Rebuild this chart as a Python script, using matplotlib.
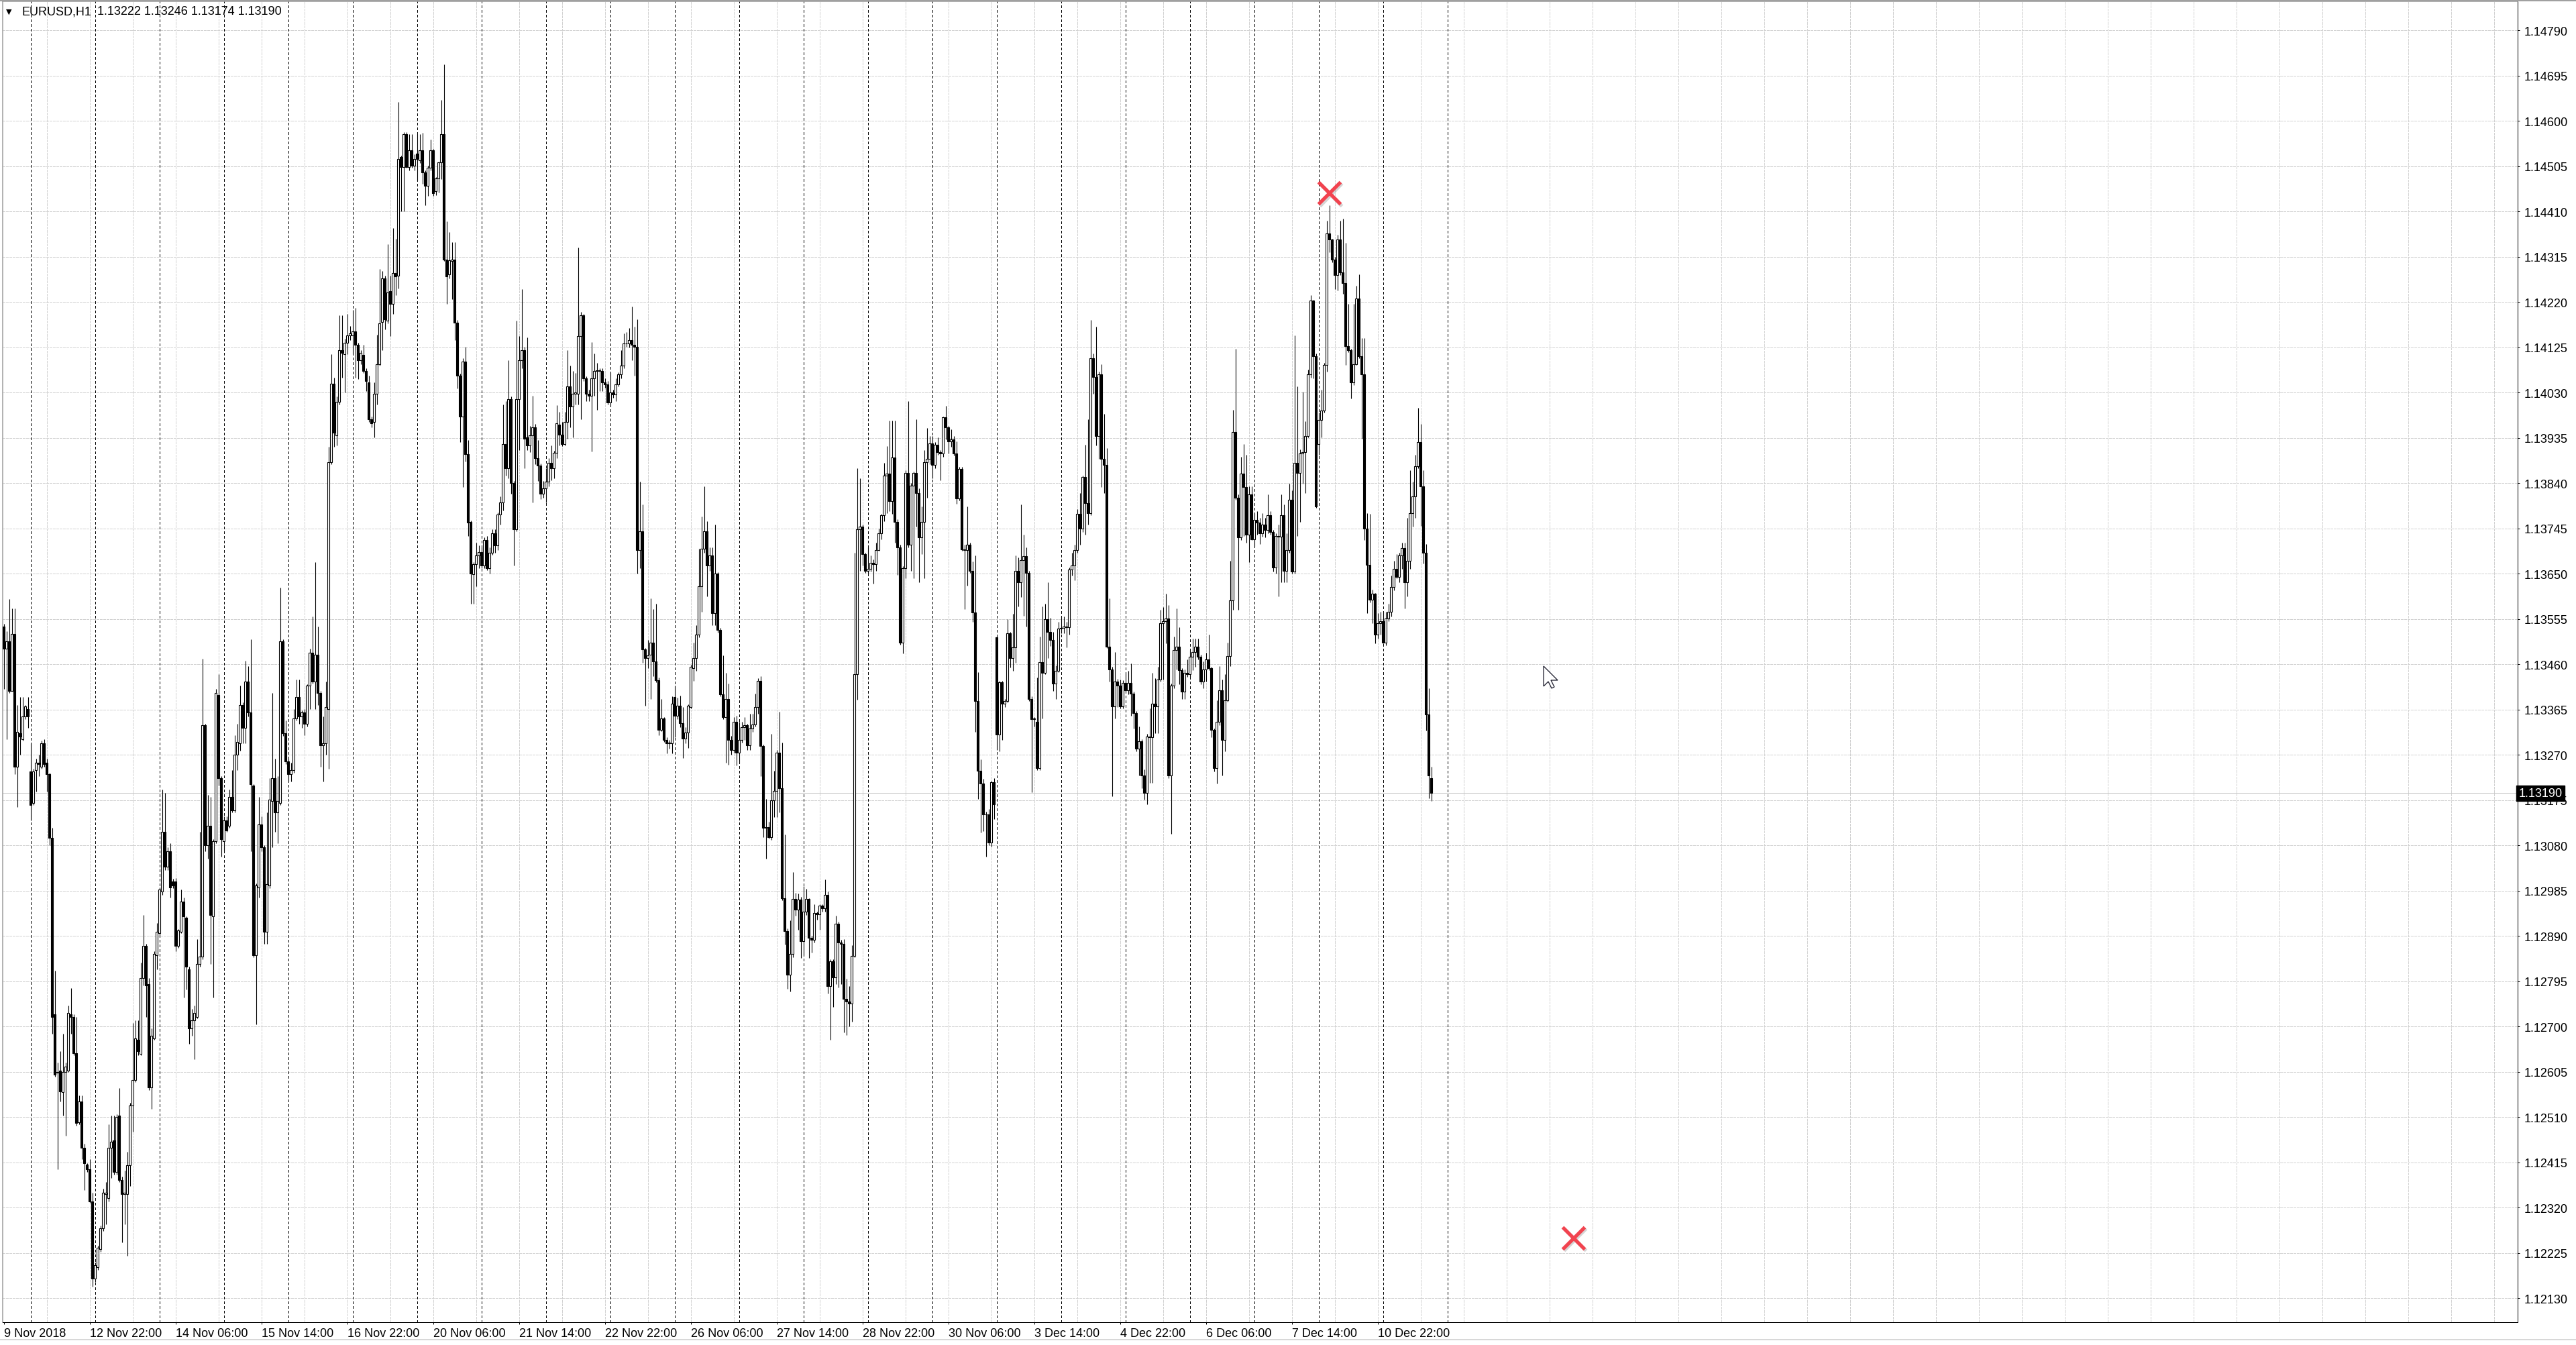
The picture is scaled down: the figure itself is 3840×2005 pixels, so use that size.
import numpy as np
import matplotlib
matplotlib.use('Agg')
import matplotlib.pyplot as plt
import matplotlib.patheffects as pe
from matplotlib.lines import Line2D
from matplotlib.patches import Polygon

plt.rcParams['font.family'] = ['Liberation Sans', 'DejaVu Sans']

# EURUSD H1 bars, prices in points (0.00001) above 1.12000
BASE = 1.12
POINT = 0.00001

OPEN = [
    1540, 1493, 1508, 1405, 1524, 1246, 1316, 1303, 1351, 1367,
    1236, 1169, 1238, 1254, 1246, 1295, 1254, 1230, 1096, 726,
    605, 608, 563, 605, 608, 726, 721, 645, 500, 543,
    446, 411, 401, 333, 171, 196, 233, 277, 349, 341,
    446, 462, 395, 514, 378, 349, 349, 409, 535, 588,
    672, 643, 802, 870, 789, 572, 676, 850, 896, 983,
    1109, 1036, 1068, 1004, 1004, 870, 899, 963, 928, 821,
    697, 713, 721, 831, 847, 1332, 1080, 1122, 931, 1089,
    1396, 1222, 1089, 1133, 1122, 1182, 1154, 1270, 1295, 1375,
    1327, 1424, 1359, 1206, 850, 992, 1125, 1076, 899, 996,
    1174, 1222, 1149, 1170, 1508, 1316, 1257, 1230, 1238, 1346,
    1392, 1351, 1359, 1335, 1416, 1484, 1424, 1481, 1400, 1290,
    1295, 1367, 1884, 2049, 1941, 2011, 2119, 2111, 2135, 2151,
    2150, 2159, 2130, 2098,
    2109, 2076, 2052, 1974, 1969, 2028, 2090, 2179, 2270, 2181,
    2243, 2216, 2281, 2276, 2525, 2504, 2572, 2504, 2539, 2507,
    2532, 2518, 2539, 2493, 2464, 2502, 2539, 2453, 2480, 2513,
    2572, 2310, 2278, 2306, 2310, 2177, 2066, 1980, 2095, 1901,
    1759, 1649, 1671, 1689, 1696, 1667, 1721, 1662, 1694, 1735,
    1710, 1775, 1800, 1922, 1872, 2017, 1840, 1743, 2017, 2098,
    2120, 1936, 1920, 1940, 1958, 1893, 1877, 1818, 1829, 1843,
    1883, 1872, 1904, 1963, 1942, 1922, 1969, 2044, 2001, 2028,
    2028, 2149, 2192, 2060, 2028, 2023, 2060, 2076, 2077, 2076,
    2052, 2047, 2009, 2030, 2026, 2047, 2069, 2087, 2133, 2134,
    2141, 2130, 2127, 1700, 1739, 1492, 1473, 1481, 1506, 1466,
    1427, 1323, 1347, 1301, 1294, 1294, 1392, 1352, 1373, 1337,
    1304, 1317, 1371, 1452, 1473, 1522, 1624, 1703, 1739, 1667,
    1689, 1567, 1651, 1533, 1398,
    1350, 1388, 1302, 1280, 1340, 1275, 1302, 1329, 1332, 1291,
    1326, 1334, 1370, 1426, 1289, 1117, 1118, 1097, 1175, 1194,
    1275, 1200, 970, 901, 809, 852, 968, 946, 966, 880,
    941, 968, 887, 882, 938, 936, 954, 948, 977, 785,
    837, 804, 916, 876, 874, 758, 753, 748, 849, 1439,
    1743, 1749, 1692, 1657, 1660, 1673, 1670, 1700, 1735, 1773,
    1856, 1860, 1802, 1894, 1759, 1706, 1506, 1662, 1862, 1711,
    1835, 1862, 1819, 1727, 1759, 1885, 1892, 1924, 1878, 1921,
    1905, 1902, 1978, 1957, 1928, 1932, 1903, 1808, 1870, 1702,
    1700, 1711, 1657, 1569, 1383, 1237, 1210, 1146, 1146, 1086,
    1213,
    1517, 1313, 1422, 1377, 1383, 1526, 1474, 1496, 1657, 1633,
    1679, 1687, 1652, 1388, 1345, 1340, 1243, 1465, 1442, 1555,
    1528, 1512, 1420, 1447, 1535, 1537, 1539, 1538, 1659, 1668,
    1700, 1776, 1745, 1853,
    1799, 1778, 2103, 2063, 1939, 2069, 1892, 1879, 1497, 1450,
    1372, 1424, 1415, 1372, 1421, 1406, 1421, 1399, 1358, 1283,
    1299, 1227, 1191, 1309, 1307, 1377, 1372, 1429, 1547, 1551,
    1556, 1227, 1415, 1490, 1497, 1448, 1403, 1443, 1440, 1476,
    1486, 1497, 1476, 1424, 1450, 1471, 1452, 1323, 1242, 1340,
    1406, 1302, 1384, 1478, 1594, 1947, 1810, 1726, 1860, 1832,
    1732, 1817, 1723, 1763, 1757, 1735, 1754, 1742, 1773, 1738,
    1664, 1730, 1728, 1773, 1657, 1700, 1806, 1655, 1883, 1862,
    1902, 1905, 1939, 2069, 2223, 2107, 1923, 1973, 1992, 2088,
    2364, 2351, 2310, 2277, 2351, 2282, 2260, 2128, 2119, 2052,
    2090, 2228, 2107, 2068, 1745, 1669, 1596, 1608, 1523, 1547,
    1551, 1506, 1556, 1570, 1622, 1660, 1644, 1688, 1704, 1632,
    1678, 1778, 1813, 1876, 1926, 1834, 1695, 1355, 1222,
]

HIGH = [
    1545, 1529, 1597, 1577, 1577, 1375, 1392, 1392, 1375, 1392,
    1295, 1241, 1262, 1270, 1300, 1303, 1262, 1232, 1117, 818,
    624, 648, 685, 624, 745, 781, 726, 721, 556, 556,
    454, 414, 422, 352, 205, 240, 282, 360, 374, 495,
    514, 514, 516, 571, 385, 398, 438, 540, 708, 713,
    713, 834, 934, 874, 802, 697, 858, 918, 992, 1198,
    1190, 1076, 1085, 1010, 1012, 905, 988, 971, 931, 826,
    737, 745, 883, 1109, 1472, 1335, 1186, 1182, 1093, 1408,
    1440, 1225, 1141, 1141, 1198, 1238, 1311, 1335, 1416, 1380,
    1468, 1456, 1513, 1209, 1000, 1182, 1141, 1080, 1149, 1222,
    1400, 1262, 1225, 1621, 1513, 1343, 1262, 1254, 1367, 1429,
    1429, 1364, 1367, 1419, 1493, 1561, 1674, 1540, 1404, 1351,
    1424, 1917, 2111, 2062, 2022, 2192, 2192, 2143, 2195, 2170,
    2204, 2208, 2135, 2120,
    2130, 2082, 2066, 1980, 2052, 2152, 2289, 2286, 2276, 2342,
    2276, 2375, 2353, 2640, 2527, 2577, 2577, 2572, 2572, 2530,
    2572, 2572, 2575, 2497, 2506, 2561, 2542, 2482, 2515, 2644,
    2719, 2389, 2367, 2346, 2346, 2182, 2070, 2103, 2127, 1931,
    1762, 1675, 1716, 1710, 1705, 1727, 1729, 1705, 1743, 1743,
    1779, 1813, 2006, 2012, 2098, 2022, 1845, 2181, 2149, 2247,
    2127, 2146, 1960, 2023, 1965, 1931, 1881, 1845, 1872, 1893,
    1920, 1908, 2004, 1990, 1969, 1990, 2120, 2087, 2076, 2071,
    2335, 2200, 2196, 2064, 2036, 2136, 2112, 2093, 2082, 2082,
    2060, 2055, 2073, 2036, 2060, 2073, 2120, 2155, 2157, 2166,
    2211, 2168, 2184, 1843, 1796, 1495, 1511, 1599, 1576, 1587,
    1433, 1387, 1350, 1307, 1301, 1393, 1416, 1390, 1395, 1371,
    1328, 1376, 1459, 1506, 1543, 1703, 1770, 1834, 1761, 1705,
    1705, 1753, 1653, 1537, 1479,
    1442, 1420, 1310, 1350, 1352, 1340, 1340, 1350, 1336, 1356,
    1356, 1399, 1431, 1436, 1292, 1178, 1130, 1315, 1237, 1280,
    1361, 1296, 1103, 906, 923, 1024, 981, 979, 973, 995,
    989, 970, 890, 957, 941, 957, 957, 1009, 984, 842,
    842, 933, 920, 882, 884, 800, 785, 871, 1695, 1872,
    1851, 1754, 1695, 1705, 1689, 1680, 1716, 1745, 1776, 1883,
    1918, 1972, 1972, 1972, 1765, 1711, 1666, 1867, 2012, 1840,
    1864, 1975, 1829, 1792, 1910, 1956, 1939, 1939, 1926, 1937,
    1910, 1980, 2002, 1960, 1953, 1939, 1928, 1875, 1874, 1711,
    1792, 1715, 1676, 1689, 1444, 1261, 1220, 1151, 1157, 1216,
    1221,
    1520, 1426, 1426, 1388, 1555, 1528, 1566, 1689, 1684, 1795,
    1733, 1706, 1657, 1393, 1350, 1433, 1519, 1582, 1587, 1633,
    1558, 1528, 1458, 1549, 1560, 1560, 1549, 1663, 1695, 1711,
    1786, 1819, 1856, 1921,
    1975, 2183, 2112, 2169, 2074, 2090, 1985, 1914, 1598, 1455,
    1486, 1430, 1429, 1427, 1443, 1446, 1462, 1403, 1362, 1330,
    1303, 1240, 1314, 1368, 1443, 1431, 1455, 1575, 1580, 1608,
    1584, 1420, 1518, 1577, 1538, 1452, 1450, 1471, 1490, 1514,
    1514, 1514, 1480, 1466, 1484, 1523, 1455, 1325, 1384, 1457,
    1429, 1440, 1506, 1678, 1994, 2122, 1817, 1895, 1923, 1900,
    1834, 1834, 1778, 1782, 1768, 1778, 1768, 1817, 1782, 1742,
    1735, 1754, 1817, 1796, 1735, 1839, 1825, 2150, 2043, 1911,
    2032, 1970, 2079, 2235, 2225, 2112, 1989, 2037, 2093, 2391,
    2424, 2353, 2315, 2362, 2391, 2395, 2344, 2216, 2122, 2216,
    2254, 2279, 2145, 2145, 1778, 1776, 1617, 1610, 1568, 1570,
    1570, 1570, 1587, 1647, 1678, 1691, 1694, 1716, 1716, 1768,
    1867, 1844, 1900, 1999, 1964, 1867, 1712, 1410, 1246,
]

LOW = [
    1408, 1303, 1400, 1405, 1230, 1161, 1270, 1300, 1345, 1327,
    1133, 1165, 1193, 1225, 1241, 1246, 1193, 1080, 685, 595,
    401, 543, 514, 471, 605, 685, 640, 492, 495, 422,
    357, 395, 330, 155, 165, 190, 228, 272, 285, 333,
    382, 390, 390, 374, 247, 285, 220, 365, 479, 584,
    640, 640, 786, 721, 567, 527, 672, 821, 890, 976,
    1028, 1028, 971, 990, 858, 866, 896, 761, 778, 664,
    681, 632, 718, 826, 842, 1068, 1052, 831, 761, 1085,
    1206, 1057, 1068, 1109, 1117, 1149, 1149, 1238, 1279, 1295,
    1295, 1351, 1068, 845, 705, 971, 1068, 874, 874, 990,
    1076, 1109, 1085, 1165, 1310, 1251, 1214, 1214, 1232, 1343,
    1335, 1327, 1311, 1330, 1367, 1420, 1367, 1375, 1246, 1214,
    1270, 1241, 1880, 1917, 1920, 2005, 2062, 2030, 2111, 2140,
    2111, 2062, 2059, 2090,
    2071, 2033, 1969, 1958, 1936, 2006, 2087, 2120, 2163, 2176,
    2149, 2195, 2235, 2249, 2410, 2410, 2502, 2496, 2502, 2496,
    2475, 2512, 2469, 2424, 2443, 2496, 2443, 2445, 2450, 2478,
    2306, 2216, 2270, 2227, 2141, 2039, 1926, 1832, 1886, 1729,
    1587, 1587, 1624, 1662, 1662, 1662, 1658, 1651, 1690, 1694,
    1700, 1753, 1783, 1856, 1850, 1818, 1667, 1740, 1910, 2082,
    1872, 1910, 1905, 1800, 1880, 1845, 1807, 1810, 1800, 1834,
    1847, 1850, 1893, 1920, 1918, 1920, 1933, 1958, 1936, 2006,
    2006, 1974, 2055, 2012, 2012, 1907, 2023, 1994, 2033, 2033,
    2040, 2005, 2001, 2020, 2012, 2044, 2060, 2082, 2127, 2125,
    2098, 2066, 1651, 1662, 1463, 1373, 1452, 1387, 1436, 1422,
    1312, 1320, 1298, 1274, 1283, 1274, 1307, 1345, 1328, 1263,
    1295, 1285, 1368, 1425, 1446, 1517, 1570, 1694, 1603, 1657,
    1543, 1543, 1527, 1393, 1345,
    1254, 1250, 1270, 1275, 1248, 1253, 1296, 1302, 1280, 1280,
    1318, 1330, 1356, 1226, 1097, 1052, 1095, 1092, 1140, 1140,
    1149, 965, 873, 780, 774, 846, 933, 903, 844, 850,
    935, 844, 855, 876, 925, 903, 941, 941, 769, 672,
    742, 790, 782, 790, 688, 683, 700, 710, 845, 1386,
    1657, 1668, 1652, 1650, 1655, 1630, 1657, 1698, 1722, 1760,
    1777, 1781, 1776, 1716, 1648, 1501, 1483, 1641, 1706, 1657,
    1641, 1749, 1633, 1692, 1641, 1810, 1880, 1851, 1872, 1900,
    1846, 1896, 1932, 1903, 1916, 1899, 1797, 1804, 1698, 1576,
    1625, 1652, 1550, 1318, 1178, 1108, 1110, 1057, 1080, 1078,
    1135,
    1280, 1278, 1302, 1370, 1380, 1453, 1447, 1463, 1582, 1601,
    1562, 1539, 1383, 1192, 1330, 1238, 1239, 1347, 1440, 1474,
    1498, 1404, 1388, 1444, 1526, 1526, 1496, 1523, 1646, 1636,
    1695, 1711, 1738, 1733,
    1754, 1773, 2028, 1919, 1892, 1832, 1820, 1495, 1424, 1184,
    1346, 1371, 1368, 1368, 1401, 1398, 1352, 1325, 1278, 1227,
    1201, 1176, 1167, 1212, 1212, 1316, 1316, 1424, 1429, 1504,
    1222, 1104, 1410, 1450, 1418, 1387, 1387, 1434, 1434, 1448,
    1455, 1471, 1418, 1410, 1424, 1448, 1307, 1236, 1210, 1333,
    1227, 1278, 1382, 1457, 1575, 1806, 1575, 1721, 1730, 1716,
    1674, 1721, 1707, 1732, 1712, 1728, 1726, 1735, 1732, 1655,
    1650, 1603, 1632, 1632, 1632, 1695, 1650, 1650, 1730, 1759,
    1839, 1820, 1937, 2062, 2060, 1789, 1900, 1937, 1989, 2074,
    2325, 2304, 2247, 2244, 2277, 2238, 2088, 2115, 2018, 2046,
    2088, 2103, 1933, 1721, 1568, 1590, 1547, 1504, 1514, 1523,
    1504, 1500, 1551, 1561, 1615, 1641, 1632, 1660, 1577, 1603,
    1660, 1749, 1768, 1872, 1751, 1672, 1321, 1179, 1174,
]

CLOSE = [
    1493, 1508, 1405, 1524, 1246, 1319, 1309, 1351, 1372, 1351,
    1165, 1236, 1254, 1251, 1295, 1251, 1230, 1096, 721, 600,
    603, 564, 605, 616, 729, 721, 645, 498, 543, 446,
    414, 401, 333, 171, 199, 236, 277, 352, 352, 446,
    459, 395, 511, 378, 349, 352, 409, 535, 588, 676,
    648, 802, 870, 786, 572, 681, 853, 899, 988, 1109,
    1036, 1068, 992, 996, 870, 902, 963, 931, 826, 697,
    713, 729, 831, 847, 1332, 1080, 1122, 934, 1089, 1400,
    1222, 1093, 1133, 1112, 1182, 1154, 1270, 1298, 1375, 1327,
    1424, 1359, 1209, 850, 996, 1125, 1076, 899, 999, 1177,
    1222, 1149, 1174, 1508, 1316, 1257, 1230, 1238, 1346, 1392,
    1351, 1359, 1335, 1416, 1484, 1424, 1481, 1400, 1290, 1295,
    1371, 1884, 2049, 1946, 2011, 2119, 2114, 2135, 2151, 2154,
    2159, 2130, 2098, 2114,
    2076, 2055, 1974, 1966, 2028, 2090, 2176, 2270, 2184, 2241,
    2216, 2281, 2274, 2521, 2504, 2572, 2504, 2539, 2507, 2521,
    2521, 2539, 2493, 2464, 2502, 2539, 2448, 2480, 2513, 2572,
    2310, 2274, 2308, 2310, 2177, 2066, 1980, 2095, 1901, 1757,
    1651, 1671, 1689, 1696, 1667, 1721, 1662, 1694, 1735, 1710,
    1775, 1800, 1922, 1872, 2017, 1840, 1743, 2017, 2098, 2120,
    1933, 1920, 1940, 1958, 1893, 1877, 1818, 1829, 1843, 1883,
    1872, 1904, 1966, 1942, 1922, 1969, 2044, 2001, 2028, 2030,
    2149, 2192, 2060, 2028, 2023, 2060, 2076, 2077, 2076, 2052,
    2047, 2009, 2030, 2026, 2047, 2069, 2087, 2133, 2134, 2141,
    2130, 2127, 1700, 1739, 1492, 1473, 1479, 1506, 1466, 1427,
    1323, 1347, 1301, 1294, 1296, 1377, 1352, 1373, 1337, 1304,
    1317, 1373, 1455, 1473, 1522, 1624, 1703, 1739, 1667, 1689,
    1567, 1651, 1533, 1398, 1350,
    1388, 1302, 1280, 1340, 1275, 1302, 1329, 1332, 1291, 1326,
    1334, 1370, 1426, 1289, 1117, 1118, 1097, 1175, 1194, 1275,
    1200, 970, 901, 809, 852, 968, 946, 966, 880, 941,
    968, 887, 882, 938, 936, 954, 948, 977, 785, 837,
    804, 916, 876, 874, 758, 753, 748, 849, 1439, 1743,
    1749, 1692, 1657, 1660, 1673, 1670, 1700, 1735, 1773, 1856,
    1860, 1802, 1894, 1759, 1706, 1506, 1662, 1862, 1711, 1835,
    1862, 1819, 1727, 1759, 1885, 1892, 1924, 1878, 1921, 1905,
    1902, 1978, 1957, 1928, 1932, 1903, 1808, 1870, 1702, 1700,
    1711, 1657, 1569, 1383, 1237, 1210, 1146, 1146, 1086, 1213,
    1167,
    1313, 1422, 1377, 1383, 1526, 1474, 1496, 1657, 1633, 1679,
    1687, 1652, 1388, 1345, 1346, 1243, 1465, 1442, 1555, 1528,
    1512, 1420, 1447, 1535, 1537, 1539, 1538, 1659, 1668, 1700,
    1776, 1745, 1853, 1799,
    1778, 2103, 2063, 1939, 2069, 1892, 1879, 1497, 1450, 1372,
    1424, 1415, 1372, 1421, 1406, 1421, 1399, 1358, 1283, 1299,
    1227, 1191, 1309, 1307, 1377, 1372, 1429, 1547, 1551, 1556,
    1227, 1415, 1490, 1497, 1448, 1403, 1443, 1440, 1476, 1486,
    1497, 1476, 1424, 1450, 1471, 1452, 1323, 1242, 1340, 1406,
    1302, 1384, 1478, 1594, 1947, 1810, 1726, 1860, 1832, 1732,
    1817, 1723, 1763, 1757, 1735, 1754, 1742, 1773, 1738, 1664,
    1730, 1728, 1773, 1657, 1700, 1806, 1655, 1883, 1862, 1902,
    1905, 1939, 2069, 2223, 2107, 1792, 1973, 1992, 2088, 2364,
    2351, 2310, 2277, 2351, 2282, 2260, 2128, 2119, 2052, 2090,
    2228, 2107, 2068, 1745, 1669, 1596, 1608, 1523, 1547, 1551,
    1506, 1556, 1570, 1622, 1660, 1644, 1688, 1704, 1632, 1678,
    1778, 1813, 1876, 1926, 1834, 1695, 1355, 1227, 1190,
]

X_LABELS = ['9 Nov 2018', '12 Nov 22:00', '14 Nov 06:00', '15 Nov 14:00',
            '16 Nov 22:00', '20 Nov 06:00', '21 Nov 14:00', '22 Nov 22:00',
            '26 Nov 06:00', '27 Nov 14:00', '28 Nov 22:00', '30 Nov 06:00',
            '3 Dec 14:00', '4 Dec 22:00', '6 Dec 06:00', '7 Dec 14:00',
            '10 Dec 22:00']
X_LABEL_STEP = 32       # bars between time labels
GRID_STEP = 16          # bars between vertical grid lines
FIRST_DAY_BAR = 10      # 12 Nov 00:00
BARS_PER_DAY = 24
Y_TICK_START = 1.12130
Y_TICK_STEP = 0.00095
Y_TICK_COUNT = 29
SYMBOL = 'EURUSD,H1'
CROSS_BARS = [494, 585]
CROSS_PRICES = [1.14449, 1.12257]

W, H = 3840, 2006
XLIM = (-0.375, 936.75)
YLIM = (1.120807, 1.148512)

o = np.array(OPEN) * POINT + BASE
hi = np.array(HIGH) * POINT + BASE
lo = np.array(LOW) * POINT + BASE
c = np.array(CLOSE) * POINT + BASE
hi = np.maximum(hi, np.maximum(o, c))
lo = np.minimum(lo, np.minimum(o, c))
x = np.arange(len(c))
up = c >= o

fig = plt.figure(figsize=(W / 100, H / 100), dpi=100)
fig.patch.set_facecolor('white')
ax = fig.add_axes([4 / W, (H - 1971.5) / H, (3752.5 - 4) / W, (1971.5 - 3) / H])
ax.set_xlim(*XLIM)
ax.set_ylim(*YLIM)

px = 0.72  # one pixel in points

# grid
yt = Y_TICK_START + Y_TICK_STEP * np.arange(Y_TICK_COUNT)
g1 = ax.hlines(yt, XLIM[0], XLIM[1], colors='#d2d2d2', linestyles=(0, (4, 2)), lw=px, zorder=1)
g2 = ax.vlines(np.arange(GRID_STEP, XLIM[1], GRID_STEP), YLIM[0], YLIM[1],
               colors='#d2d2d2', linestyles=(0, (4, 2)), lw=px, zorder=1)
# day separators
seps = np.arange(FIRST_DAY_BAR, len(c) + 7, BARS_PER_DAY)
g3 = ax.vlines(seps, YLIM[0], YLIM[1], colors='black', linestyles=(0, (3, 3)),
               lw=px, zorder=2)
for g in (g1, g2, g3):
    g.set_snap(True)
    g.set_antialiased(False)

# bid line
bid = c[-1]
ax.axhline(bid, color='#c8c8c8', lw=px, zorder=1.5)

# candles
wicks = ax.vlines(x, lo, hi, colors='black', lw=px * 1.1, zorder=3)
wicks.set_snap(True)
ax.bar(x[up], (c - o)[up], bottom=o[up], width=0.55, color='white',
       edgecolor='black', lw=px * 1.1, zorder=4)
ax.bar(x[~up], (o - c)[~up], bottom=c[~up], width=0.55, color='black',
       edgecolor='black', lw=px * 1.1, zorder=4)

# red crosses
ax.plot(CROSS_BARS, CROSS_PRICES, ls='none', marker='x', ms=24, mew=3.8,
        color='#f2434f', zorder=6,
        path_effects=[pe.SimpleLineShadow(offset=(1.5, -1.5), shadow_color='#888888', alpha=0.35),
                      pe.Normal()])

# axes styling
for side in ['top', 'left']:
    ax.spines[side].set_color('#9a9a9a')
    ax.spines[side].set_linewidth(px * 1.5)
for side in ['right', 'bottom']:
    ax.spines[side].set_color('black')
    ax.spines[side].set_linewidth(px)

ax.yaxis.tick_right()
ax.set_yticks(yt)
ax.set_yticklabels([f'{v:.5f}' for v in yt])
ax.set_xticks(np.arange(len(X_LABELS)) * X_LABEL_STEP)
ax.set_xticklabels(X_LABELS, ha='left')
ax.tick_params(axis='y', direction='out', length=2, width=px, pad=5, labelsize=13, colors='black')
ax.tick_params(axis='x', direction='out', length=2, width=px, pad=4, labelsize=13, colors='black')

# current price tag
ax.annotate(f'{bid:.5f}', xy=(1, bid), xycoords=('axes fraction', 'data'),
            xytext=(1.5, 0), textcoords='offset points', ha='left', va='center',
            color='white', fontsize=13, zorder=10, annotation_clip=False,
            bbox=dict(boxstyle='square,pad=0.18', fc='black', ec='black'))

# header
yh = 1 - 18 / H
fig.text(13 / W, yh, '\u25bc', fontsize=8, family='DejaVu Sans', ha='center', va='center')
fig.text(32 / W, yh, SYMBOL, fontsize=13, va='center')
fig.text(145 / W, yh, ' '.join(f'{v:.5f}' for v in (o[-1], hi[-1], lo[-1], c[-1])),
         fontsize=13, va='center')

# mouse pointer left in the screenshot
tip_x, tip_y = 2301, 994
arrow = np.array([(0, 0), (0, 30), (7, 23), (12, 33), (16, 31), (11, 21), (21, 21)], float)
cursor = Polygon(np.column_stack([(tip_x + arrow[:, 0]) / W, 1 - (tip_y + arrow[:, 1]) / H]),
                 closed=True, transform=fig.transFigure, fc='white', ec='#202030', lw=px * 1.3)
fig.add_artist(cursor)

# window frame
fig.add_artist(Line2D([0, 1], [1 - 1.5 / H, 1 - 1.5 / H], color='#a0a0a0', lw=px * 2))
fig.add_artist(Line2D([0, 1], [8 / H, 8 / H], color='#d8d8d8', lw=px * 2))

fig.savefig('out.png', dpi=100, facecolor='white')
